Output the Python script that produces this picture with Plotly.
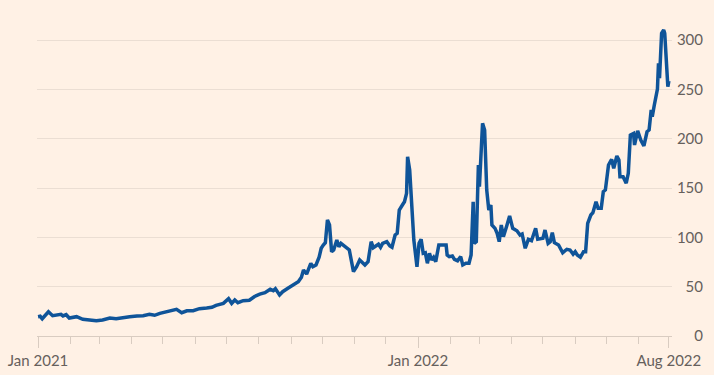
import pandas as pd
import plotly.graph_objects as go

start_date = "2021-01-01"
day_offsets = [0, 2, 4, 10, 14, 18, 22, 24, 27, 30, 37, 43, 50, 56, 62, 69, 75, 82, 88, 95,
               101, 107, 112, 117, 123, 130, 133, 138, 143, 149, 155, 162, 167, 171, 178, 183,
               186, 189, 192, 197, 203, 208, 213, 218, 223, 226, 228, 232, 235, 240, 245, 250,
               253, 255, 258, 262, 264, 267, 270, 272, 274, 276, 278, 280, 282, 284, 287, 289,
               291, 295, 298, 299, 303, 306, 309, 312, 314, 317, 320, 322, 327, 329, 331, 335,
               338, 340, 343, 345, 347, 350, 352, 354, 355, 357, 360, 361, 364, 366, 368, 370,
               372, 374, 376, 378, 380, 382, 385, 389, 392, 393, 395, 398, 400, 403, 406, 408,
               411, 414, 416, 418, 419, 421, 423, 424, 426, 427, 429, 431, 433, 435, 436, 439,
               441, 443, 445, 447, 450, 453, 456, 460, 463, 465, 468, 471, 474, 478, 480, 485,
               487, 490, 492, 494, 496, 500, 504, 508, 511, 514, 516, 518, 521, 524, 526, 528,
               531, 533, 536, 538, 541, 543, 545, 548, 551, 553, 556, 558, 559, 562, 565, 567,
               569, 572, 573, 576, 579, 582, 585, 587, 589, 590, 592, 595, 596, 597, 599, 601,
               602, 604, 605, 606]
values = [19.6, 20, 17.5, 24.6, 20.6, 21.6, 22, 20.3, 21.6, 18.2, 19.6, 16.9, 16.2, 15.5, 16.2,
          18.2, 17.5, 19, 19.6, 20.3, 20.6, 22, 21, 23, 24.3, 26.4, 27, 23.6, 25.6, 25.6, 27.7,
          28.4, 29.1, 31.1, 33.1, 37.8, 33.1, 36.5, 33.7, 35.8, 36.2, 40, 42.5, 43.9, 47.3, 45.9,
          48, 41.6, 44.9, 48.3, 51.7, 55, 59.5, 66.9, 62.8, 73.7, 70.2, 72, 79.8, 88.9, 92.2,
          94.6, 117.6, 112.5, 85.4, 87.2, 97.3, 90.5, 93.9, 90.5, 88.9, 87.2, 65.2, 70.2, 77,
          73.7, 72, 75.3, 95.6, 89.5, 93, 89.9, 93.9, 95.6, 91.2, 89.9, 102.4, 104.1, 127.7,
          132.8, 136.1, 144.6, 181.7, 168.2, 104.1, 97.3, 70.2, 93.9, 98, 83.8, 84.4, 73.7, 83.8,
          77, 79.8, 75.3, 92.2, 92.2, 92.2, 82.1, 80.4, 81.1, 77.7, 76.3, 80.4, 72, 73.7, 73.7,
          82.1, 136, 93.9, 95.6, 173.3, 151.3, 205.3, 215.6, 208.8, 148, 127.7, 132.8, 112.5,
          109.1, 104.1, 95.6, 112.5, 100.7, 110.8, 121.6, 109.1, 106.7, 102.4, 103.4, 88.9, 98,
          96.6, 109.1, 98, 99, 107.4, 93.9, 95.6, 104.7, 94.6, 92.2, 84.4, 87.9, 87.2, 83, 85.4,
          82.1, 79.8, 85.4, 85.4, 114.2, 122.6, 125, 136.1, 129.4, 129.4, 146.2, 148, 173.3,
          179.1, 170, 182.4, 178.4, 161.4, 161.4, 154.8, 164.9, 203.7, 205.3, 193.6, 208, 198.6,
          192.6, 207, 208.8, 229, 222.3, 234.1, 250.3, 276.4, 261.2, 306.8, 310.1, 306.8, 269.6,
          252.7, 258.4]

x_tick_labels = ["Jan 2021", "Jan 2022", "Aug 2022"]
y_ticks = [0, 50, 100, 150, 200, 250, 300]

dates = pd.Timestamp(start_date) + pd.to_timedelta(day_offsets, unit="D")
last_date = dates[-1]
major_ticks = [pd.Timestamp("2021-01-01"), pd.Timestamp("2022-01-01"), last_date]
minor_ticks = list(pd.date_range("2021-01-01", "2022-08-01", freq="MS"))

BG = "#FFF1E5"
GRID = "#EBDED3"
TICK = "#D9CCC1"
TXT = "#66605C"
FONT = "Lato, 'Open Sans', sans-serif"

fig = go.Figure(go.Scatter(x=dates, y=values, mode="lines",
                           line=dict(color="#0F5499", width=3.5),
                           hoverinfo="skip"))

fig.update_layout(
    width=714, height=375,
    margin=dict(l=37, r=8, t=10, b=39, autoexpand=False),
    paper_bgcolor=BG, plot_bgcolor=BG,
    showlegend=False,
    font=dict(family=FONT, size=15, color=TXT),
    xaxis=dict(
        type="date", domain=[0, 0.9492], automargin=False,
        range=[pd.Timestamp(start_date) - pd.Timedelta(days=1),
               pd.Timestamp(start_date) + pd.Timedelta(days=609)],
        tickmode="array", tickvals=major_ticks, ticktext=x_tick_labels,
        ticks="outside", ticklen=11, tickwidth=1, tickcolor=TICK,
        showgrid=False, zeroline=False,
        showline=True, linecolor=TICK, linewidth=1,
        minor=dict(tickmode="array", tickvals=minor_ticks, ticks="outside",
                   ticklen=7, tickwidth=1, tickcolor=TICK, showgrid=False),
        tickfont=dict(family=FONT, size=15, color=TXT),
        fixedrange=True,
    ),
    yaxis=dict(
        range=[0, 330.4], anchor="free", position=0.9955, side="left", automargin=False,
        tickmode="array", tickvals=y_ticks, ticktext=[str(v) for v in y_ticks],
        ticks="", showgrid=True, gridcolor=GRID, gridwidth=1,
        zeroline=False, showline=False,
        tickfont=dict(family=FONT, size=15, color=TXT),
        fixedrange=True,
    ),
)

page_fix = ("document.body.style.margin='0';"
            "document.body.style.padding='0';"
            "document.body.style.background='" + BG + "';"
            "document.body.style.overflow='hidden';")
fig.write_html("out.html", config={"displayModeBar": False}, post_script=page_fix)
